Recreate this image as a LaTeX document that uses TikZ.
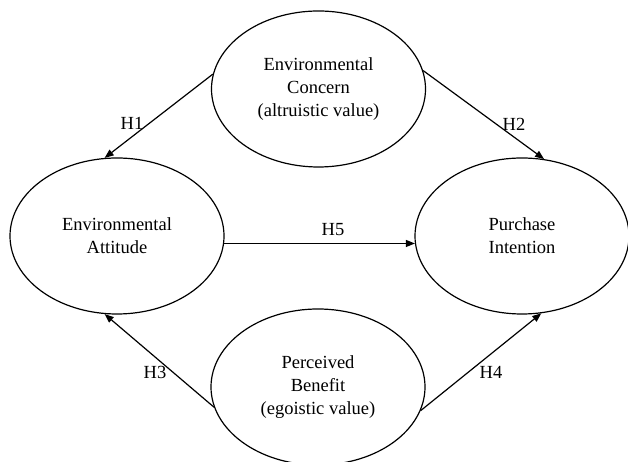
\documentclass[tikz,border=0pt]{standalone}
\usepackage{fontspec}
\setmainfont{Liberation Serif}
\usetikzlibrary{positioning,arrows.meta,shapes.geometric}

\begin{document}
\begin{tikzpicture}[on grid, font=\fontsize{18.5}{23}\selectfont,
    construct/.style={draw, ellipse, line width=1.2pt, minimum width=214pt, minimum height=156pt, inner sep=0pt, align=center},
    hyp/.style={line width=1.2pt, -{Triangle[length=9pt,width=7pt]}}]
    \useasboundingbox (0,0) rectangle (628pt,462pt);

    \node   (att) [construct] at (117pt,226pt)  {Environmental\\Attitude};
    \node   (pi)  [construct, right=405pt of att]   {Purchase\\Intention};
    \node   (ec)  [construct, above right=147pt and 201.5pt of att]  {Environmental\\Concern\\(altruistic value)};
    \node   (pb)  [construct, below right=151pt and 201pt of att]    {Perceived\\Benefit\\(egoistic value)};

    \node   (h1) at (132pt,339pt)  {H1};
    \node   (h2) at (514pt,338pt)  {H2};
    \node   (h5) at (333pt,232pt)  {H5};
    \node   (h3) at (155pt,90pt)   {H3};
    \node   (h4) at (491pt,90pt)   {H4};

    \draw[hyp]   (ec.172)  --  (att.99);
    \draw[hyp]   (ec.10)   --  (pi.74);
    \draw[hyp]   (att.-4)  --  (pi.184);
    \draw[hyp]   (pb.191)  --  (att.261);
    \draw[hyp]   (pb.-13)  --  (pi.-76);
\end{tikzpicture}
\end{document}
